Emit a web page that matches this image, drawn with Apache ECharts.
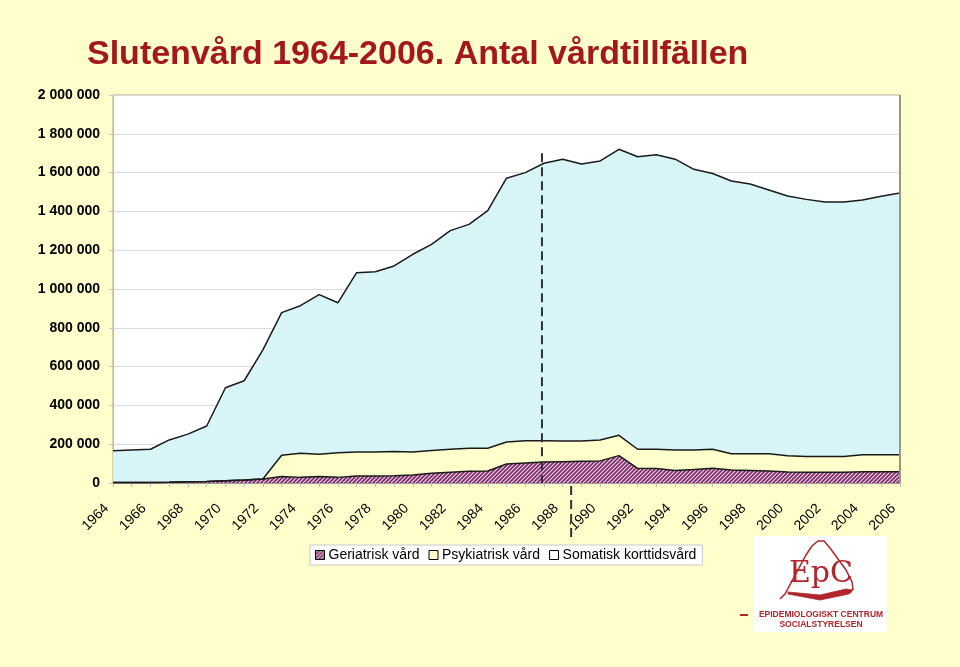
<!DOCTYPE html>
<html><head><meta charset="utf-8">
<script src="https://cdn.jsdelivr.net/npm/echarts@6/dist/echarts.min.js"></script>
<style>html,body{margin:0;padding:0;background:#FFFFCC;}#c{width:960px;height:667px;}</style>
</head><body><div id="c"></div>
<script>
const years = ['1964','1965','1966','1967','1968','1969','1970','1971','1972','1973','1974','1975','1976','1977','1978','1979','1980','1981','1982','1983','1984','1985','1986','1987','1988','1989','1990','1991','1992','1993','1994','1995','1996','1997','1998','1999','2000','2001','2002','2003','2004','2005','2006'];
const geriatrisk = [3000,3000,3000,4000,6000,8000,12000,16000,21000,34000,29000,33000,29000,36000,36000,38000,41000,50000,55000,60000,62000,98000,103000,108000,110000,112000,114000,141000,76000,75000,65000,70000,76000,67000,65000,62000,57000,55000,55000,55000,58000,58000,58000];
const psykiatrisk = [0,0,0,0,0,0,0,0,0,109000,124000,115000,127000,124000,124000,125000,119000,118000,119000,119000,117000,113000,115000,110000,106000,104000,108000,105000,98000,99000,105000,100000,98000,84000,86000,89000,84000,81000,81000,81000,88000,88000,88000];
const somatisk = [163000,167000,171000,218000,246000,286000,479000,511000,665000,735000,761000,823000,773000,924000,929000,956000,1019000,1062000,1127000,1154000,1225000,1360000,1382000,1430000,1453000,1428000,1438000,1474000,1508000,1518000,1499000,1447000,1421000,1406000,1390000,1359000,1338000,1326000,1312000,1312000,1313000,1332000,1349000];
const seriesNames = ['Geriatrisk vård','Psykiatrisk vård','Somatisk korttidsvård'];
const titleText = 'Slutenvård 1964-2006. Antal vårdtillfällen';
const reformYear = '1987';

function hatch(bg, fg, size, lw){
  const c=document.createElement('canvas'); c.width=size; c.height=size;
  const x=c.getContext('2d'); x.fillStyle=bg; x.fillRect(0,0,size,size);
  x.strokeStyle=fg; x.lineWidth=lw; x.beginPath();
  x.moveTo(0,size); x.lineTo(size,0);
  x.moveTo(-1,1); x.lineTo(1,-1);
  x.moveTo(size-1,size+1); x.lineTo(size+1,size-1);
  x.stroke();
  return {image:c, repeat:'repeat'};
}
const geriFill = hatch('#f2d4ea','#7d2c66',4,1.7);
const somFill = hatch('#dcf7f9','#cbeef1',4,0.8);
const psyFill = '#ffffcc';

const chart = echarts.init(document.getElementById('c'));
const fmt = v => String(v).replace(/\B(?=(\d{3})+(?!\d))/g,' ');
function mk(name, data, fill){
  return {name, type:'line', stack:'tot', data, showSymbol:false, symbol:'none',
    lineStyle:{color:'#1a1a1a', width:1.5}, areaStyle:{color:fill, opacity:1},
    itemStyle:{color:fill}, emphasis:{disabled:true}, animation:false, z:2};
}
chart.setOption({
  backgroundColor:'#FFFFCC',
  animation:false,
  title:{text:titleText, left:82, top:33,
    textStyle:{fontFamily:'Arial, Liberation Sans', fontWeight:'bold', fontSize:34, color:'#a3181c',
      textShadowColor:'#3a2a2a', textShadowOffsetX:2, textShadowOffsetY:2, textShadowBlur:0}},
  grid:{left:113, right:60, top:95, bottom:184, show:true, backgroundColor:'#ffffff', borderColor:'#aaa68e', borderWidth:1},
  legend:{left:310, top:545, data:[
      {name:seriesNames[0], itemStyle:{color:geriFill, borderColor:'#000', borderWidth:1}},
      {name:seriesNames[1], itemStyle:{color:psyFill, borderColor:'#000', borderWidth:1}},
      {name:seriesNames[2], itemStyle:{color:'#ffffff', borderColor:'#000', borderWidth:1}}],
    icon:'rect', itemWidth:9, itemHeight:9, itemGap:9, backgroundColor:'#ffffff', borderColor:'#c8c8c8', borderWidth:1,
    padding:[3,6,3,5], textStyle:{fontFamily:'Arial, Liberation Sans', fontSize:14, color:'#000', padding:[0,0,0,-1]}},
  xAxis:{type:'category', data:years, boundaryGap:false,
    axisLine:{lineStyle:{color:'#999'}},
    axisTick:{show:true, interval:0, length:4, lineStyle:{color:'#bbb'}},
    axisLabel:{interval:1, rotate:45, margin:17, padding:[0,9,0,0], fontFamily:'Arial, Liberation Sans', fontSize:14, color:'#000'},
    splitLine:{show:false}},
  yAxis:{type:'value', min:0, max:2000000, interval:200000,
    axisLine:{show:true, lineStyle:{color:'#bbb'}},
    axisTick:{show:true, length:4, lineStyle:{color:'#ccc'}},
    axisLabel:{formatter:fmt, margin:13, fontFamily:'Arial, Liberation Sans', fontWeight:'bold', fontSize:14, color:'#000'},
    splitLine:{lineStyle:{color:'#dadada', width:1}}},
  series:[mk(seriesNames[0], geriatrisk, geriFill), mk(seriesNames[1], psykiatrisk, psyFill), mk(seriesNames[2], somatisk, somFill)]
});

// Annotations positioned through the chart's scales
const pTop = chart.convertToPixel({xAxisIndex:0,yAxisIndex:0}, [reformYear, 1700000]);
const pBase = chart.convertToPixel({xAxisIndex:0,yAxisIndex:0}, [reformYear, 0]);
const pMax = chart.convertToPixel({xAxisIndex:0,yAxisIndex:0}, ['2006', 2000000]);
const p88 = chart.convertToPixel({xAxisIndex:0,yAxisIndex:0}, ['1988', 0]);
const p89 = chart.convertToPixel({xAxisIndex:0,yAxisIndex:0}, ['1989', 0]);
const xb = p88[0] + 0.45*(p89[0]-p88[0]);
const red = '#b0262c';
chart.setOption({graphic:[
  {type:'line', shape:{x1:pMax[0],y1:pMax[1],x2:pMax[0],y2:pBase[1]}, style:{stroke:'#9a9680', lineWidth:2}, z:40, silent:true},
  {type:'line', shape:{x1:pTop[0]-2,y1:pTop[1],x2:pBase[0]-2,y2:pBase[1]}, style:{stroke:'#333', lineWidth:2, lineDash:[9,5]}, z:50, silent:true},
  {type:'line', shape:{x1:xb,y1:pBase[1]+3,x2:xb,y2:pBase[1]+58}, style:{stroke:'#333', lineWidth:2, lineDash:[9,5]}, z:50, silent:true},
  {type:'group', x:740, y:536, silent:true, children:[
    {type:'rect', shape:{x:14,y:0,width:133,height:96}, style:{fill:'#ffffff'}},
    {type:'line', shape:{x1:0,y1:79,x2:8,y2:79}, style:{stroke:red, lineWidth:2}},
    {type:'polyline', shape:{points:[[40,63],[45,58],[66,19],[72,10],[78,5],[84,5],[90,12],[106,34],[112,46],[113,53],[110,57]]}, style:{fill:null, stroke:red, lineWidth:1.5}},
    {type:'polygon', shape:{points:[[48,56],[80,59],[106,53],[112,54],[109,58],[80,64],[48,58]]}, style:{fill:red, stroke:red, lineWidth:0.8}},
    {type:'text', style:{text:'EpC', x:81, y:38, fill:red, font:'30px "DejaVu Serif", "Liberation Serif", serif', align:'center', verticalAlign:'middle'}},
    {type:'text', style:{text:'EPIDEMIOLOGISKT CENTRUM', x:81, y:79, fill:red, font:'bold 8.5px Arial, "Liberation Sans"', align:'center', verticalAlign:'middle'}},
    {type:'text', style:{text:'SOCIALSTYRELSEN', x:81, y:89, fill:red, font:'bold 8.5px Arial, "Liberation Sans"', align:'center', verticalAlign:'middle'}}
  ]}
]});
</script></body></html>
